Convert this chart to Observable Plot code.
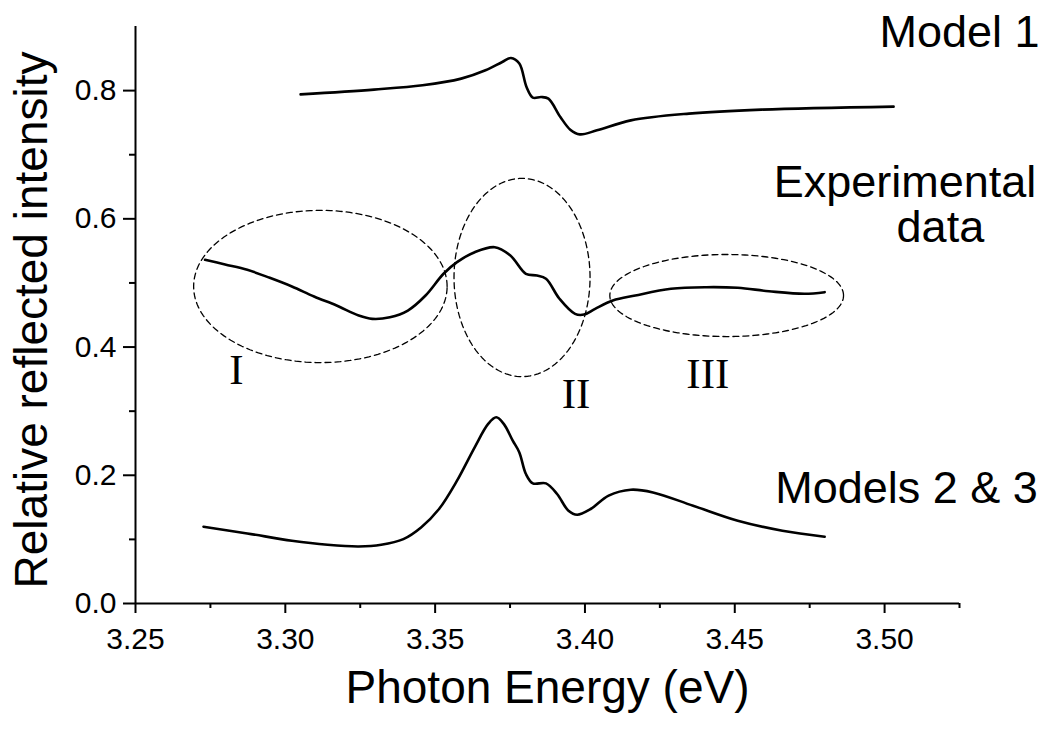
<!DOCTYPE html>
<html><head><meta charset="utf-8">
<script src="https://cdn.jsdelivr.net/npm/d3@7"></script>
<script src="https://cdn.jsdelivr.net/npm/@observablehq/plot@0.6"></script>
<style>body{margin:0;background:#fff} #chart svg{display:block}</style>
</head><body><div id="chart"></div>
<script>
// ---- Data ----
const model1X = [3.3051,3.3296,3.3458,3.3587,3.3668,3.3724,3.3753,3.3781,3.3805,3.3826,3.3854,3.3878,3.3918,3.3951,3.3983,3.4040,3.4153,3.4347,3.4589,3.5030];
const model1Y = [0.7941,0.8016,0.8083,0.8187,0.8317,0.8447,0.8509,0.8422,0.8056,0.7891,0.7900,0.7875,0.7588,0.7391,0.7318,0.7380,0.7536,0.7641,0.7703,0.7750];

const exptX = [3.2732,3.2799,3.2873,3.2948,3.3022,3.3096,3.3171,3.3245,3.3290,3.3349,3.3409,3.3468,3.3528,3.3573,3.3632,3.3699,3.3751,3.3803,3.3840,3.3870,3.3915,3.3967,3.3997,3.4034,3.4093,3.4168,3.4287,3.4406,3.4510,3.4614,3.4733,3.4800];
const exptY = [0.5361,0.5288,0.5205,0.5080,0.4945,0.4788,0.4648,0.4492,0.4440,0.4465,0.4570,0.4804,0.5143,0.5324,0.5480,0.5558,0.5429,0.5143,0.5116,0.5065,0.4753,0.4518,0.4507,0.4596,0.4726,0.4804,0.4909,0.4934,0.4924,0.4871,0.4831,0.4856];

const model23X = [3.2727,3.2873,3.3022,3.3141,3.3245,3.3320,3.3394,3.3453,3.3513,3.3573,3.3632,3.3677,3.3704,3.3729,3.3759,3.3781,3.3803,3.3826,3.3870,3.3907,3.3945,3.3974,3.4019,3.4079,3.4153,3.4227,3.4361,3.4510,3.4659,3.4800];
const model23Y = [0.1198,0.1093,0.0979,0.0916,0.0890,0.0916,0.1005,0.1187,0.1474,0.1916,0.2436,0.2801,0.2904,0.2801,0.2540,0.2357,0.2020,0.1874,0.1874,0.1708,0.1447,0.1385,0.1474,0.1682,0.1775,0.1733,0.1525,0.1291,0.1135,0.1041];

// dashed region ellipses (centre and half-axes in data units)
const regionNames = ["I", "II", "III"];
const regionCX = [3.3117, 3.3790, 3.4473];
const regionCY = [0.4945, 0.5085, 0.4804];
const regionRX = [0.0423, 0.0227, 0.0390];
const regionRY = [0.1187, 0.1546, 0.0640];
// roman numeral label positions
const romanX = [3.2837, 3.3970, 3.4410];
const romanY = [0.343, 0.3055, 0.3368];

// curve labels
const curveLabels = ["Model 1", "Experimental", "data", "Models 2 & 3"];
const curveLabelX = [3.4983, 3.4630, 3.5040, 3.4635];
const curveLabelY = [0.8676, 0.6334, 0.5632, 0.1572];

const xTicks = [3.25, 3.30, 3.35, 3.40, 3.45, 3.50];
const xMinor = [3.275, 3.325, 3.375, 3.425, 3.475, 3.525];
const yTicks = [0.0, 0.2, 0.4, 0.6, 0.8];
const yMinor = [0.1, 0.3, 0.5, 0.7];
const xDomain = [3.25, 3.525];
const yDomain = [0, 0.9];
const xTitle = "Photon Energy (eV)";
const yTitle = "Relative reflected intensity";

// ---- build tables ----
const rows = (xs, ys) => xs.map((x, i) => ({x, y: ys[i]}));
const ellipseRows = [];
regionNames.forEach((n, k) => {
  for (let i = 0; i <= 160; i++) {
    const t = 2 * Math.PI * i / 160;
    ellipseRows.push({name: n, x: regionCX[k] + regionRX[k] * Math.cos(t), y: regionCY[k] + regionRY[k] * Math.sin(t)});
  }
});
const romanRows = regionNames.map((n, i) => ({t: n, x: romanX[i], y: romanY[i]}));
const labelRows = curveLabels.map((t, i) => ({t, x: curveLabelX[i], y: curveLabelY[i]}));

const sans = "'Liberation Sans', Arial, Helvetica, sans-serif";
const serif = "'Liberation Serif', 'Times New Roman', serif";

const chart = Plot.plot({
  width: 1054, height: 736,
  marginLeft: 135, marginRight: 95, marginTop: 26, marginBottom: 133,
  style: {fontFamily: sans, background: "white", color: "black", overflow: "visible"},
  x: {domain: xDomain, axis: null},
  y: {domain: yDomain, axis: null},
  marks: [
    Plot.axisX({ticks: xTicks, tickSize: 10, tickFormat: () => "", label: null, strokeWidth: 2}),
    Plot.axisX({ticks: xMinor, tickSize: 5, tickFormat: () => "", label: null, strokeWidth: 2}),
    Plot.axisY({ticks: yTicks, tickSize: 12, tickFormat: () => "", label: null, strokeWidth: 2}),
    Plot.axisY({ticks: yMinor, tickSize: 6, tickFormat: () => "", label: null, strokeWidth: 2}),
    Plot.text(xTicks, {x: d => d, frameAnchor: "bottom", dy: 24, lineAnchor: "top", text: d => d.toFixed(2), fontSize: 30, fill: "black"}),
    Plot.text(yTicks, {y: d => d, frameAnchor: "left", dx: -19, textAnchor: "end", lineAnchor: "middle", text: d => d.toFixed(1), fontSize: 30, fill: "black"}),
    Plot.ruleY([0], {x1: xDomain[0], x2: xDomain[1], strokeWidth: 2}),
    Plot.ruleX([xDomain[0]], {y1: yDomain[0], y2: yDomain[1], strokeWidth: 2}),
    Plot.line(ellipseRows, {x: "x", y: "y", z: "name", stroke: "black", strokeWidth: 1.3, strokeDasharray: "6,4"}),
    Plot.line(rows(model1X, model1Y), {x: "x", y: "y", curve: "catmull-rom", stroke: "black", strokeWidth: 2.6}),
    Plot.line(rows(exptX, exptY), {x: "x", y: "y", curve: "catmull-rom", stroke: "black", strokeWidth: 2.6}),
    Plot.line(rows(model23X, model23Y), {x: "x", y: "y", curve: "catmull-rom", stroke: "black", strokeWidth: 2.6}),
    Plot.text(labelRows, {x: "x", y: "y", text: "t", textAnchor: "start", lineAnchor: "bottom", fontSize: 45, fill: "black"}),
    Plot.text(romanRows, {x: "x", y: "y", text: "t", textAnchor: "middle", lineAnchor: "bottom", fontSize: 43, fontFamily: serif, fill: "black"}),
    Plot.text([xTitle], {frameAnchor: "bottom", dy: 99, textAnchor: "middle", lineAnchor: "bottom", fontSize: 46, fill: "black"}),
    Plot.text([yTitle], {frameAnchor: "left", rotate: -90, dx: -89, dy: 5, textAnchor: "middle", lineAnchor: "bottom", fontSize: 46, fill: "black"})
  ]
});
document.getElementById("chart").appendChild(chart);
</script>
</body></html>
